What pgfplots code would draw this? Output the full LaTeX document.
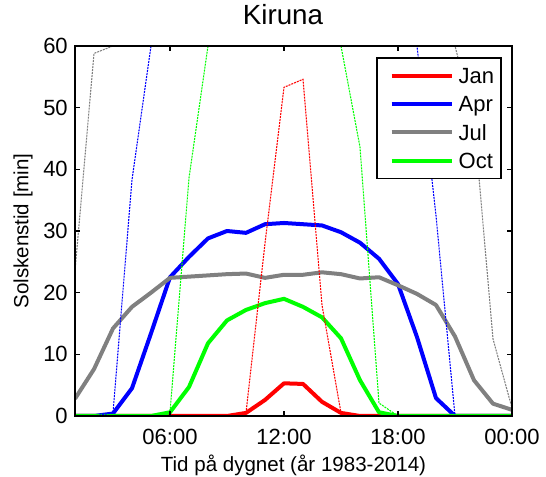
\documentclass[border=0pt]{standalone}
\usepackage{fontspec}
\setmainfont{Liberation Sans}
\usepackage{pgfplots}
\usepackage{pgfplotstable}
\pgfplotsset{compat=1.18}

\definecolor{janred}{RGB}{255,0,0}
\definecolor{aprblue}{RGB}{0,0,255}
\definecolor{julgray}{RGB}{128,128,128}
\definecolor{octgreen}{RGB}{0,255,0}

% Mean sunshine minutes per hour of day
\pgfplotstableread{
h   jan  apr   jul   oct
1   0    0     2.8   0
2   0    0     7.6   0
3   0    0.4   14.2  0
4   0    4.5   17.7  0
5   0    13.4  20.0  0
6   0    22.5  22.4  0.6
7   0    25.8  22.6  4.7
8   0    28.8  22.8  11.8
9   0    30.0  23.0  15.5
10  0.5  29.7  23.1  17.2
11  2.6  31.1  22.4  18.3
12  5.3  31.3  22.9  19.0
13  5.2  31.1  22.9  17.7
14  2.3  30.9  23.3  16.0
15  0.5  29.8  23.0  12.6
16  0    28.1  22.3  5.8
17  0    25.5  22.5  0.6
18  0    21.4  21.2  0
19  0    12.8  19.8  0
20  0    2.9   18.0  0
21  0    0     12.9  0
22  0    0     5.8   0
23  0    0     2.0   0
24  0    0     1.0   0
}\meantable

% Maximum sunshine minutes per hour of day
\pgfplotstableread{
h   jan   apr   jul   oct
1   0     0     23.5  0
2   0     0     58.8  0
3   0     0.5   60    0
4   0     38.3  60    0
5   0     60    60    0
6   0     60    60    0.6
7   0     60    60    38.6
8   0     60    60    60
9   0     60    60    60
10  0.5   60    60    60
11  28    60    60    60
12  53.3  60    60    60
13  54.6  60    60    60
14  18    60    60    60
15  0.5   60    60    60
16  0     60    60    43.6
17  0     60    60    2.1
18  0     60    60    0
19  0     60    60    0
20  0     32.5  60    0
21  0     0     60    0
22  0     0     48    0
23  0     0     12.5  0
24  0     0     1.3   0
}\maxtable

\begin{document}
\begin{tikzpicture}
\path[use as bounding box] (-56.25pt,-45.75pt) rectangle (353.25pt,312pt);
\begin{axis}[
  at={(0pt,0pt)}, anchor=south west,
  scale only axis, width=327.75pt, height=277.5pt,
  xmin=1, xmax=24, ymin=0, ymax=60,
  xtick={6,12,18,24}, xticklabels={06:00,12:00,18:00,00:00},
  ytick={0,10,...,60},
  tick align=inside, major tick length=3.4pt,
  tick style={black, line width=1pt},
  axis line style={line width=1.2pt},
  axis on top,
  /pgf/number format/assume math mode=true,
  ticklabel style={font=\fontsize{16.5}{19.8}\selectfont},
  xticklabel style={anchor=base, yshift=-21.75pt, inner sep=0pt},
  yticklabel style={anchor=east, xshift=-5.25pt, inner sep=0pt},
  title={Kiruna},
  title style={at={(axis description cs:0.5,1)}, anchor=base,
    yshift=9.75pt, xshift=-7.9pt, font=\fontsize{20.8}{25}\selectfont},
  xlabel={Tid på dygnet (år 1983-2014)},
  ylabel={Solskenstid [min]},
  every axis x label/.style={at={(axis description cs:0.5,0)}, anchor=base,
    yshift=-41.3pt, font=\fontsize{15.4}{18}\selectfont},
  every axis y label/.style={at={(axis description cs:-0.119,0.5)}, rotate=90,
    anchor=center, font=\fontsize{15.4}{18}\selectfont},
  legend cell align=left,
  legend image code/.code={\path (-4.5pt,0pt); \draw[#1] (0pt,0pt) -- (45pt,0pt);},
  legend style={at={(axis description cs:1,1)}, anchor=north east,
    xshift=-7.5pt, yshift=-8.25pt, draw=black, line width=1.2pt,
    inner xsep=5.25pt, inner ysep=2.9pt, row sep=0pt, column sep=3.75pt,
    nodes={inner sep=0pt, text height=16.5pt, text depth=4.7pt,
      font=\fontsize{16.5}{19.8}\selectfont}},
  thick line/.style={line width=3pt, line join=round},
  max line/.style={line width=0.8pt, dash pattern=on 1.5pt off 0.75pt, forget plot},
]
\addplot[janred,   thick line] table[x=h, y=jan] {\meantable};
\addlegendentry{Jan}
\addplot[aprblue,  thick line] table[x=h, y=apr] {\meantable};
\addlegendentry{Apr}
\addplot[julgray,  thick line] table[x=h, y=jul] {\meantable};
\addlegendentry{Jul}
\addplot[octgreen, thick line] table[x=h, y=oct] {\meantable};
\addlegendentry{Oct}

\addplot[janred,   max line] table[x=h, y=jan] {\maxtable};
\addplot[aprblue,  max line] table[x=h, y=apr] {\maxtable};
\addplot[julgray,  max line] table[x=h, y=jul] {\maxtable};
\addplot[octgreen, max line] table[x=h, y=oct] {\maxtable};
\end{axis}
\end{tikzpicture}
\end{document}
